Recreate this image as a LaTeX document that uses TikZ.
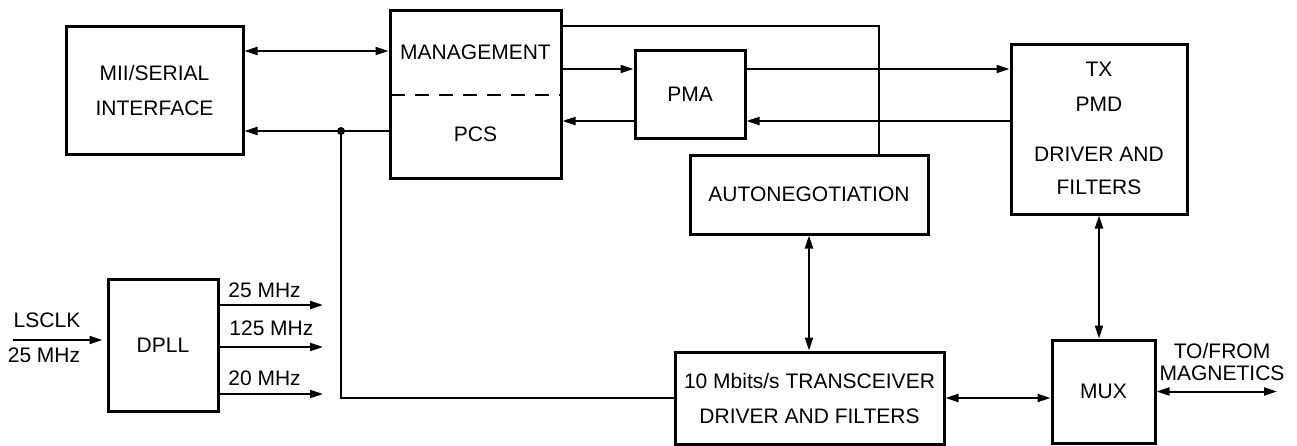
\documentclass[tikz,border=0pt]{standalone}
\usepackage{fontspec}
\setmainfont{Liberation Sans}
\usetikzlibrary{arrows.meta}
\begin{document}
\begin{tikzpicture}[x=0.5pt,y=-0.5pt,
  box/.style={draw,line width=1.5pt,inner sep=0pt,align=center,font=\fontsize{10.5}{17.5}\selectfont},
  lbl/.style={inner sep=0pt,align=center,font=\fontsize{10.5}{11}\selectfont},
  conn/.style={line width=1pt},
  tip/.tip={Triangle[length=6.5pt,width=4pt]},
  arr/.style={conn,-tip},
  biarr/.style={conn,tip-tip},
]
\useasboundingbox[fill=white] (0,0) rectangle (1297,445);

% boxes
\node[box,minimum width=88.5pt,minimum height=64pt] (mii) at (154.5,90) {MII/SERIAL\\INTERFACE};
\node[box,minimum width=85.5pt,minimum height=84pt] (mgt) at (475.5,94) {};
\node[lbl] (mgtt) at (475.5,52) {MANAGEMENT};
\node[lbl] (pcs) at (475.5,134) {PCS};
\node[box,minimum width=55pt,minimum height=44pt] (pma) at (690,94) {PMA};
\node[box,minimum width=119pt,minimum height=39.5pt] (auto) at (809,194.5) {AUTONEGOTIATION};
\node[box,minimum width=88pt,minimum height=85pt] (tx) at (1099,129) {};
\node[lbl] (txa) at (1099,69) {TX};
\node[lbl] (txb) at (1099,104) {PMD};
\node[lbl] (txc) at (1099,154) {DRIVER AND};
\node[lbl] (txd) at (1099,187) {FILTERS};
\node[box,minimum width=55pt,minimum height=66pt] (dpll) at (163,345) {DPLL};
\node[box,minimum width=134.5pt,minimum height=46pt] (trx) at (809.5,398) {10 Mbits/s TRANSCEIVER\\DRIVER AND FILTERS};
\node[box,minimum width=51.5pt,minimum height=51.5pt] (mux) at (1103.5,391.5) {MUX};

% dashed divider
\draw[conn,dash pattern=on 7pt off 5pt,dash phase=-1pt] ([yshift=-0.5pt]mgt.west) -- ([yshift=-0.5pt]mgt.east);

% MII <-> MANAGEMENT
\draw[biarr] ([yshift=19.5pt]mii.east) -- ([yshift=19.5pt]mii.east -| mgt.west);
% PCS -> MII with junction
\coordinate (dot) at (341,131);
\draw[arr] (mgt.west |- dot) -- (mii.east |- dot);
\fill (dot) circle[radius=2pt];
\draw[conn] (dot) |- (trx.west);

% MANAGEMENT <-> PMA
\draw[arr] ([yshift=12.5pt]pma.west -| mgt.east) -- ([yshift=12.5pt]pma.west);
\draw[arr] ([yshift=-13.5pt]pma.west) -- ([yshift=-13.5pt]pma.west -| mgt.east);
% PMA <-> TX PMD
\draw[arr] ([yshift=12.5pt]pma.east) -- ([yshift=12.5pt]pma.east -| tx.west);
\draw[arr] ([yshift=-13.5pt]pma.east -| tx.west) -- ([yshift=-13.5pt]pma.east);
% MANAGEMENT to AUTONEGOTIATION
\draw[conn] ([yshift=34pt]mgt.east) -| ([xshift=35pt]auto.north);
% AUTONEGOTIATION <-> TRANSCEIVER
\draw[biarr] (auto.south) -- (auto.south |- trx.north);
% TX PMD <-> MUX
\draw[biarr] (tx.south) -- (tx.south |- mux.north);
% TRANSCEIVER <-> MUX
\draw[biarr] (trx.east) -- (trx.east -| mux.west);
% MUX <-> magnetics
\coordinate (mag) at (1277,391.5);
\draw[biarr] (mux.east) -- (mag);
\node[lbl,font=\fontsize{10.5}{11}\selectfont] (magl) at (1222,362) {TO/FROM\\MAGNETICS};

% DPLL
\coordinate (lin) at (13,340);
\draw[arr] (lin) -- ([xshift=-2pt]dpll.west |- lin);
\node[lbl] (lsclk) at (47,320) {LSCLK};
\node[lbl] (l25) at (44,355) {25 MHz};
\coordinate (o1) at (323,305);
\coordinate (o2) at (323,347);
\coordinate (o3) at (323,394);
\draw[arr] (dpll.east |- o1) -- (o1);
\draw[arr] (dpll.east |- o2) -- (o2);
\draw[arr] (dpll.east |- o3) -- (o3);
\node[lbl,anchor=west] (f1) at (228,290) {25 MHz};
\node[lbl,anchor=west] (f2) at (229,328) {125 MHz};
\node[lbl,anchor=west] (f3) at (228,378) {20 MHz};
\end{tikzpicture}
\end{document}
